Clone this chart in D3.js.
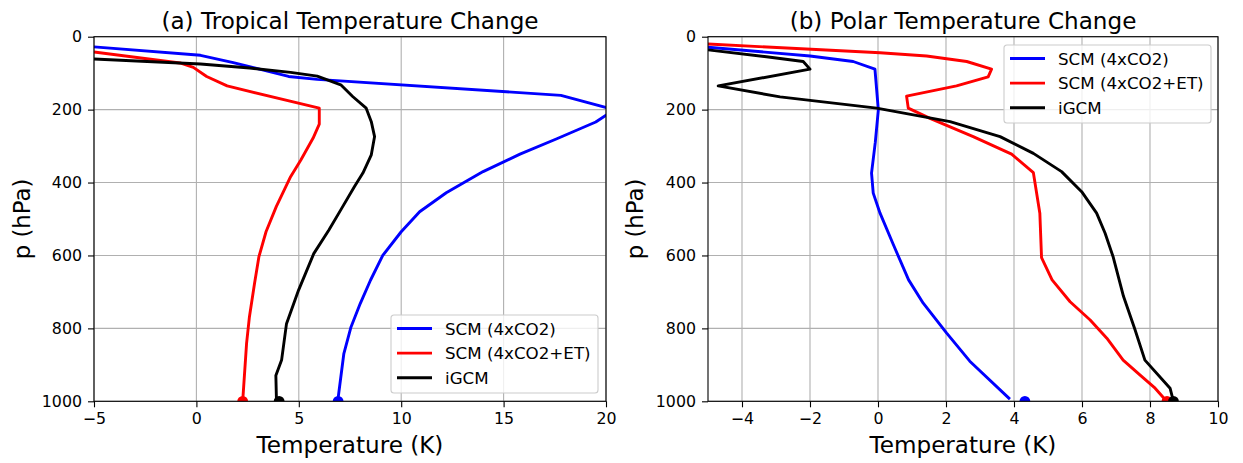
<!DOCTYPE html>
<html>
<head>
<meta charset="utf-8">
<script src="https://cdn.jsdelivr.net/npm/d3@7"></script>
<style>
  html, body { margin: 0; padding: 0; background: #fff; }
  svg { display: block; font-family: "DejaVu Sans", sans-serif; }
</style>
</head>
<body>
<svg id="fig" width="1243" height="463"></svg>
<script>
// ---- Tropical profiles: temperature change (K) at pressure (hPa) ----
const tropScmT   = [-5.0, 0.2, 1.8, 4.5, 5.9, 17.8, 20.4, 19.5, 17.6, 15.8, 14.0, 12.2, 10.9, 10.0, 9.1, 8.5, 8.0, 7.55, 7.2, 6.9];
const tropScmP   = [28, 51, 71, 109, 117, 161, 200, 234, 280, 322, 370, 428, 480, 535, 600, 668, 732, 796, 869, 1000];
const tropEtT    = [-5.0, -0.8, -0.15, 0.5, 1.5, 6.0, 6.0, 5.7, 5.1, 4.6, 3.9, 3.4, 3.05, 2.84, 2.59, 2.45, 2.26];
const tropEtP    = [42, 72, 84, 109, 135, 196, 240, 278, 338, 384, 466, 535, 604, 676, 768, 841, 1000];
const tropGcmT   = [-5.0, 0.2, 2.6, 4.6, 5.9, 7.05, 7.63, 8.29, 8.54, 8.7, 8.54, 8.13, 7.72, 7.05, 6.47, 5.73, 4.99, 4.4, 4.16, 3.88, 3.91];
const tropGcmP   = [61, 75, 86, 98, 108, 132, 164, 196, 233, 274, 324, 374, 411, 475, 530, 595, 695, 787, 887, 929, 1000];
const tropSurface = [6.92, 2.26, 4.04];   // surface change: SCM, SCM+ET, iGCM

// ---- Polar profiles ----
const polScmT    = [-5.0, -2.0, -0.73, -0.09, 0.01, -0.08, -0.19, -0.14, 0.06, 0.45, 0.9, 1.33, 2.02, 2.7, 3.88];
const polScmP    = [29, 53, 68, 89, 201, 290, 374, 429, 484, 570, 667, 731, 813, 890, 994];
const polEtT     = [-5.0, 0.06, 1.43, 2.61, 3.34, 3.24, 2.31, 0.84, 0.89, 1.53, 2.8, 3.93, 4.57, 4.76, 4.81, 5.12, 5.65, 6.24, 6.73, 7.21, 7.71, 8.15, 8.49];
const polEtP     = [20, 44, 53, 68, 89, 110, 135, 163, 196, 224, 274, 322, 373, 484, 606, 667, 727, 777, 827, 887, 928, 964, 1000];
const polGcmT    = [-5.0, -3.28, -2.2, -2.0, -4.7, -2.88, -0.04, 2.12, 3.59, 4.57, 5.4, 5.99, 6.43, 6.68, 6.92, 7.22, 7.56, 7.85, 8.59, 8.69];
const polGcmP    = [36, 55, 68, 89, 135, 165, 196, 233, 274, 320, 370, 425, 484, 539, 605, 712, 804, 887, 964, 1000];
const polSurface = [4.32, 8.5, 8.69];

// ---- Labels and ticks ----
const seriesNames  = ["SCM (4xCO2)", "SCM (4xCO2+ET)", "iGCM"];
const seriesColors = ["#0000ff", "#ff0000", "#000000"];
const titles       = ["(a) Tropical Temperature Change", "(b) Polar Temperature Change"];
const tropXTicks   = [-5, 0, 5, 10, 15, 20];
const polXTicks    = [-4, -2, 0, 2, 4, 6, 8, 10];
const pTicks       = [0, 200, 400, 600, 800, 1000];

const svg = d3.select("#fig");

const panels = [
  { left: 94, right: 606, xDomain: [-5, 20], xTicks: tropXTicks, title: titles[0],
    series: [[tropScmT, tropScmP], [tropEtT, tropEtP], [tropGcmT, tropGcmP]],
    surface: tropSurface, ylabX: 30, legend: { x: 391, y: 315 } },
  { left: 708, right: 1218, xDomain: [-5, 10], xTicks: polXTicks, title: titles[1],
    series: [[polScmT, polScmP], [polEtT, polEtP], [polGcmT, polGcmP]],
    surface: polSurface, ylabX: 643, legend: { x: 1004, y: 45 } }
];
const plotTop = 36.7, plotBottom = 401.3;

panels.forEach((pn, i) => {
  const x = d3.scaleLinear().domain(pn.xDomain).range([pn.left, pn.right]);
  const y = d3.scaleLinear().domain([0, 1000]).range([plotTop, plotBottom]);
  const g = svg.append("g");

  const clipId = "clip" + i;
  svg.append("clipPath").attr("id", clipId)
    .append("rect").attr("x", pn.left).attr("y", plotTop)
    .attr("width", pn.right - pn.left).attr("height", plotBottom - plotTop);

  // grid
  const grid = g.append("g").attr("stroke", "#b0b0b0").attr("stroke-width", 1.1);
  pn.xTicks.forEach(t => grid.append("line")
    .attr("x1", x(t)).attr("x2", x(t)).attr("y1", plotTop).attr("y2", plotBottom));
  pTicks.forEach(t => grid.append("line")
    .attr("x1", pn.left).attr("x2", pn.right).attr("y1", y(t)).attr("y2", y(t)));

  // profiles
  const line = d3.line().x(d => x(d[0])).y(d => y(d[1]));
  const plot = g.append("g").attr("clip-path", `url(#${clipId})`);
  pn.series.forEach((s, k) => {
    const pts = s[0].map((v, j) => [v, s[1][j]]);
    plot.append("path").datum(pts).attr("d", line)
      .attr("fill", "none").attr("stroke", seriesColors[k])
      .attr("stroke-width", 2.9).attr("stroke-linejoin", "round");
  });
  pn.surface.forEach((v, k) => {
    plot.append("circle").attr("cx", x(v)).attr("cy", y(1000)).attr("r", 5.4)
      .attr("fill", seriesColors[k]);
  });

  // axes
  const xAxis = d3.axisBottom(x).tickValues(pn.xTicks).tickSize(6).tickPadding(5)
    .tickFormat(d3.format("d"));
  const gx = g.append("g").attr("transform", `translate(0,${plotBottom})`).call(xAxis);
  const yAxis = d3.axisLeft(y).tickValues(pTicks).tickSize(6).tickPadding(6)
    .tickFormat(d3.format("d"));
  const gy = g.append("g").attr("transform", `translate(${pn.left},0)`).call(yAxis);
  [gx, gy].forEach(a => {
    a.select(".domain").remove();
    a.selectAll(".tick line").attr("stroke", "#000").attr("stroke-width", 1.1);
    a.selectAll(".tick text").attr("font-size", 15.8).attr("fill", "#000")
      .attr("font-family", "DejaVu Sans");
  });

  // frame
  g.append("rect").attr("x", pn.left).attr("y", plotTop)
    .attr("width", pn.right - pn.left).attr("height", plotBottom - plotTop)
    .attr("fill", "none").attr("stroke", "#000").attr("stroke-width", 1.1);

  // texts
  g.append("text").attr("x", (pn.left + pn.right) / 2).attr("y", 29)
    .attr("text-anchor", "middle").attr("font-size", 23.1).text(pn.title);
  g.append("text").attr("x", (pn.left + pn.right) / 2).attr("y", 453)
    .attr("text-anchor", "middle").attr("font-size", 23.1).text("Temperature (K)");
  g.append("text").attr("transform", `translate(${pn.ylabX},${(plotTop + plotBottom) / 2}) rotate(-90)`)
    .attr("text-anchor", "middle").attr("font-size", 22.8).text("p (hPa)");

  // legend
  const lg = g.append("g").attr("transform", `translate(${pn.legend.x},${pn.legend.y})`);
  lg.append("rect").attr("width", 207).attr("height", 78).attr("rx", 3)
    .attr("fill", "#fff").attr("fill-opacity", 0.8)
    .attr("stroke", "#cccccc").attr("stroke-width", 1.1);
  seriesNames.forEach((name, k) => {
    const ry = 13.5 + k * 24.6;
    lg.append("line").attr("x1", 6).attr("x2", 41).attr("y1", ry).attr("y2", ry)
      .attr("stroke", seriesColors[k]).attr("stroke-width", 2.9);
    lg.append("text").attr("x", 54).attr("y", ry + 6).attr("font-size", 16.7).text(name);
  });
});
</script>
</body>
</html>
